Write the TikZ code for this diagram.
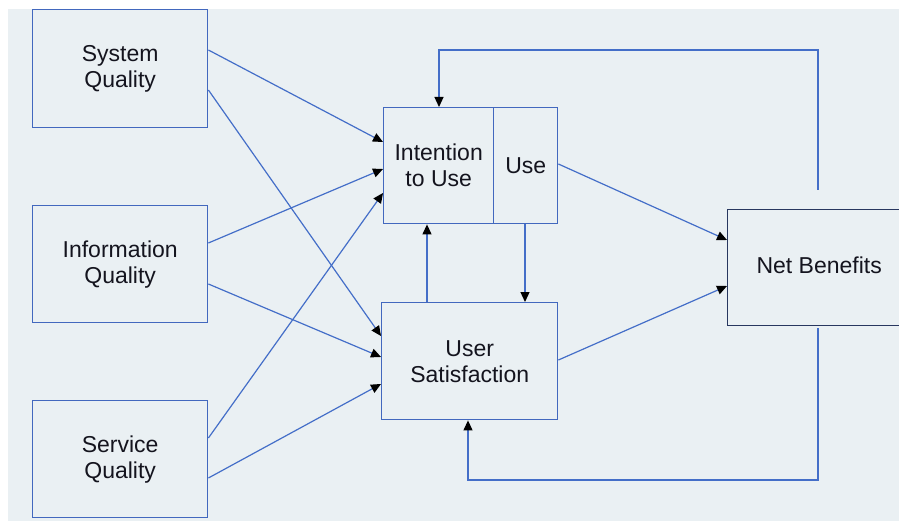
\documentclass[tikz,border=0pt]{standalone}
\usepackage{fontspec}
\setmainfont{Liberation Sans}
\usetikzlibrary{arrows.meta}
\definecolor{bgc}{RGB}{234,240,243}
\definecolor{boxblue}{RGB}{66,104,190}
\definecolor{lineblue}{RGB}{68,110,200}
\definecolor{darkbox}{RGB}{40,55,95}
\definecolor{txt}{RGB}{20,20,30}
\tikzset{
  blk/.style={draw=boxblue, line width=1.4pt, rectangle, anchor=north west, inner sep=0pt,
    align=center, text=txt, font=\fontsize{23}{26}\selectfont},
  conn/.style={draw=lineblue, line width=1.2pt,
    -{Triangle[length=10pt,width=9pt,color=black]}},
  plain/.style={draw=lineblue, line width=1.2pt}
}
\begin{document}
\begin{tikzpicture}[x=1pt,y=-1pt]
\useasboundingbox (0,0) rectangle (899,521);
\clip (0,0) rectangle (899,521);
\fill[white] (0,0) rectangle (899,521);
\fill[bgc] (8,9) rectangle (899,521);

\node[blk, minimum width=175pt, minimum height=118pt] (sys) at (32,9) {System\\Quality};
\node[blk, minimum width=175pt, minimum height=117pt] (info) at (32,205) {Information\\Quality};
\node[blk, minimum width=175pt, minimum height=117pt] (serv) at (32,400) {Service\\Quality};
\node[blk, minimum width=110pt, minimum height=116pt] (intent) at (383,107) {Intention\\to Use};
\node[blk, minimum width=64pt, minimum height=116pt] (use) at (493,107) {Use};
\node[blk, minimum width=176pt, minimum height=117pt] (us) at (381,302) {User\\Satisfaction};
\node[blk, draw=darkbox, minimum width=183pt, minimum height=116pt] (nb) at (727,209) {\raisebox{5pt}{Net Benefits}};

\coordinate (nbtop) at (818,190);
\coordinate (topleft) at (439,50);
\coordinate (nbbot) at (818,328);
\coordinate (botleft) at (468,480);

% inputs
\draw[conn] (sys.east |- 0,50) -- (intent.west |- 0,142);
\draw[conn] (sys.east |- 0,90) -- (us.west |- 0,336);
\draw[conn] (info.east |- 0,243) -- (intent.west |- 0,169);
\draw[conn] (info.east |- 0,284) -- (us.west |- 0,357);
\draw[conn] (serv.east |- 0,438) -- (intent.west |- 0,193);
\draw[conn] (serv.east |- 0,478) -- (us.west |- 0,384);

% to net benefits
\draw[conn] (use.east |- 0,164) -- (nb.west |- 0,240);
\draw[conn] (us.east |- 0,360) -- (nb.west |- 0,286);

% between use and satisfaction
\draw[conn] (use.south -| 525,0) -- (us.north -| 525,0);
\draw[conn] (us.north -| 427,0) -- (intent.south -| 427,0);

% feedback loops
\draw[conn] (nbtop) |- (topleft) -- (intent.north -| topleft);
\draw[conn] (nbbot) |- (botleft) -- (us.south -| botleft);
\end{tikzpicture}
\end{document}
